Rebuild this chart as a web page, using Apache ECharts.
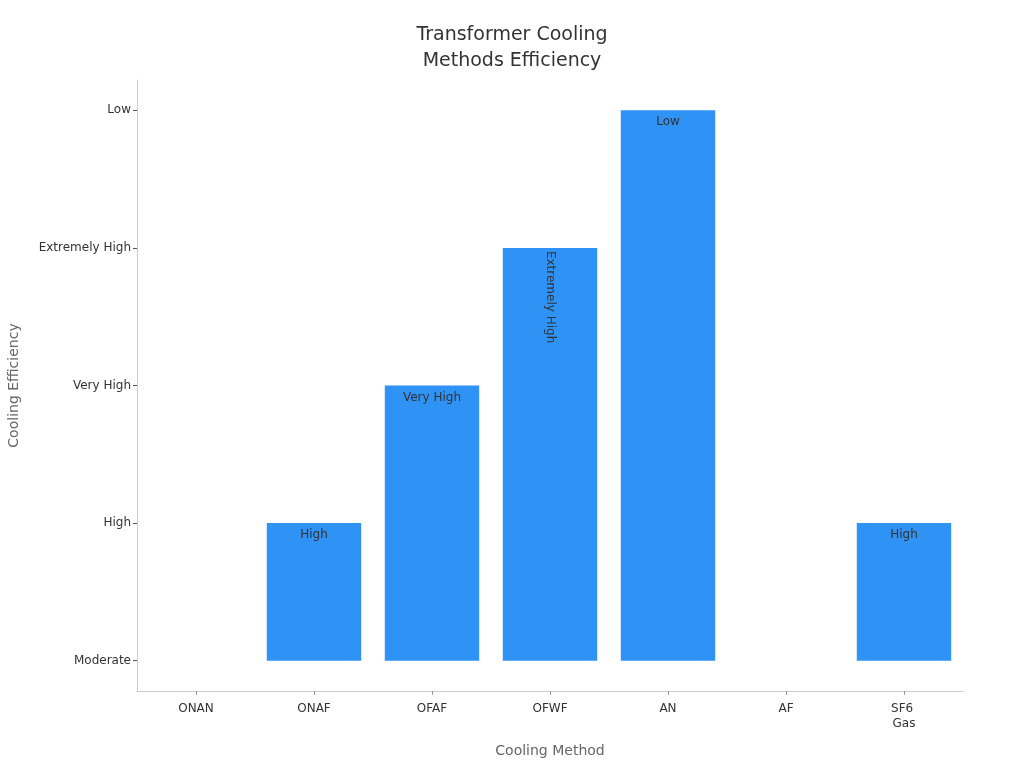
<!DOCTYPE html>
<html><head><meta charset="utf-8">
<script src="https://cdn.jsdelivr.net/npm/echarts@6/dist/echarts.min.js"></script>
<style>html,body{margin:0;padding:0;background:#fff}#c{width:1024px;height:768px}</style>
</head><body><div id="c"></div>
<script>
const methods = ['ONAN', 'ONAF', 'OFAF', 'OFWF', 'AN', 'AF', 'SF6 Gas'];
const levels = ['Moderate', 'High', 'Very High', 'Extremely High', 'Low'];
const efficiency = ['Moderate', 'High', 'Very High', 'Extremely High', 'Low', 'Moderate', 'High'];

const font = 'DejaVu Sans';
const data = efficiency.map(function (e) {
  const v = levels.indexOf(e);
  const item = { value: v };
  if (e === 'Extremely High') {
    item.label = { rotate: -90, position: 'insideTop', distance: 3, align: 'left', verticalAlign: 'middle' };
  }
  return item;
});

const chart = echarts.init(document.getElementById('c'));
chart.setOption({
  animation: false,
  textStyle: { fontFamily: font },
  title: {
    text: 'Transformer Cooling\nMethods Efficiency',
    left: 'center', top: 17,
    textStyle: { fontFamily: font, fontSize: 19, fontWeight: 'normal', color: '#333', lineHeight: 26 }
  },
  grid: { left: 137, right: 61, top: 80, bottom: 77, containLabel: false, outerBoundsMode: 'none' },
  xAxis: {
    type: 'category', data: methods,
    name: 'Cooling Method', nameLocation: 'middle', nameGap: 53,
    nameTextStyle: { fontFamily: font, fontSize: 14, color: '#666' },
    axisLine: { onZero: false, lineStyle: { color: '#ccc' } },
    axisTick: { show: true, alignWithLabel: true, length: 4, lineStyle: { color: '#999' } },
    axisLabel: { interval: 0, fontSize: 12, color: '#333', margin: 10, width: 40, overflow: 'break', lineHeight: 15 }
  },
  yAxis: {
    type: 'value', min: -0.22, max: 4.22,
    name: 'Cooling Efficiency', nameLocation: 'middle', nameGap: 116,
    nameTextStyle: { fontFamily: font, fontSize: 14, color: '#666' },
    splitLine: { show: false },
    axisLine: { show: true, lineStyle: { color: '#ccc' } },
    axisTick: { show: true, length: 4, customValues: [0, 1, 2, 3, 4], lineStyle: { color: '#555' } },
    axisLabel: {
      fontSize: 12, color: '#333', margin: 6,
      customValues: [0, 1, 2, 3, 4],
      formatter: function (v) { return levels[Math.round(v)]; }
    }
  },
  series: [{
    type: 'bar', data: data, barWidth: '80%',
    itemStyle: { color: '#2f93f5' },
    label: {
      show: true, position: 'insideTop', distance: 6,
      fontSize: 12, color: '#333',
      formatter: function (p) { return p.value === 0 ? '' : levels[p.value]; }
    }
  }]
});
</script></body></html>
